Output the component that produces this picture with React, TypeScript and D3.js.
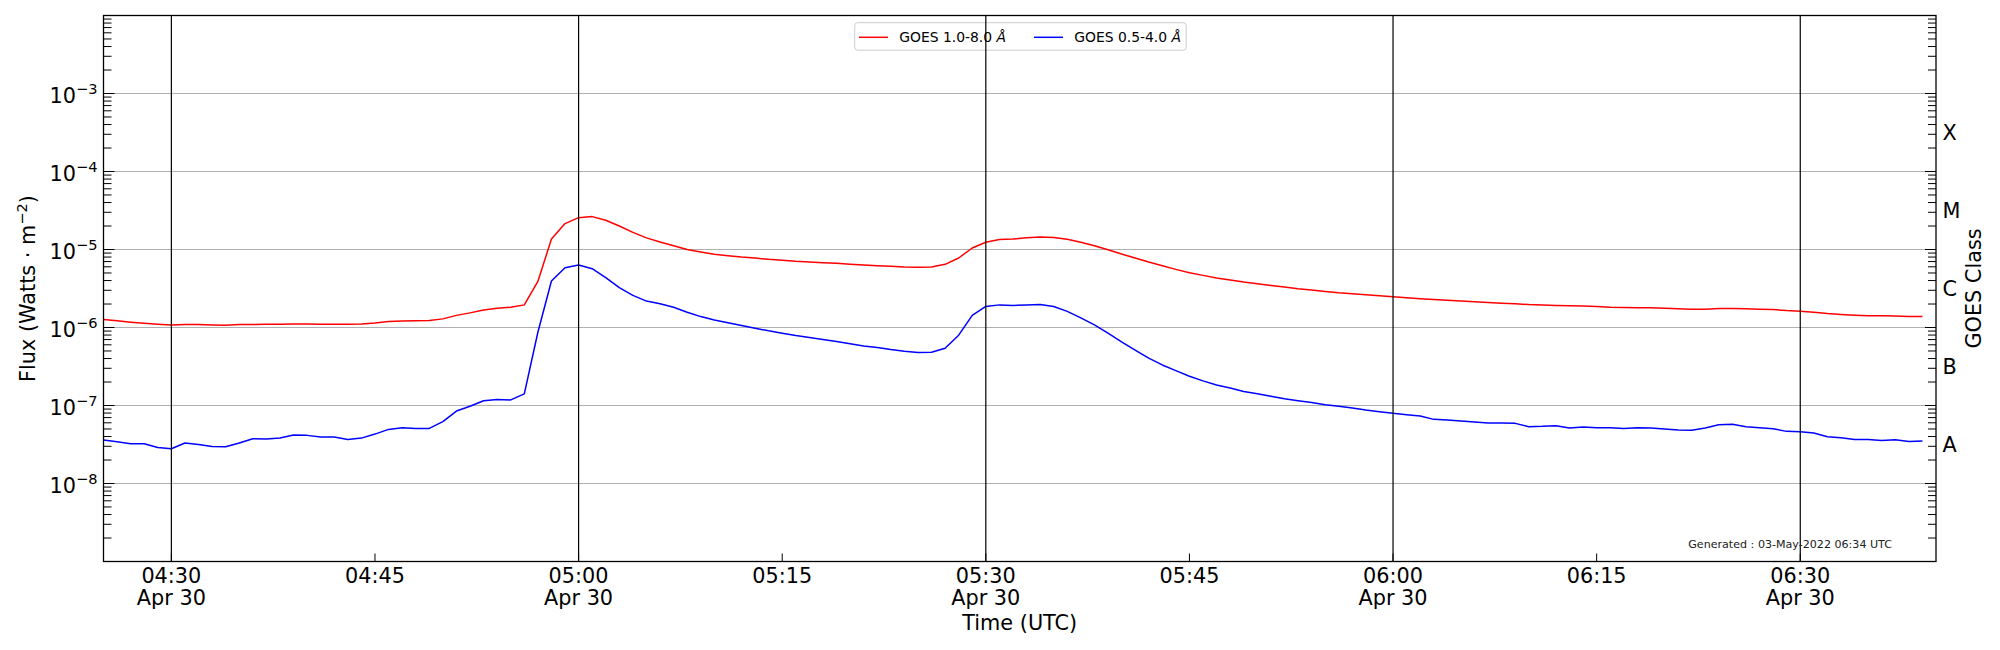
import { useRef, useEffect } from "react";
import * as d3 from "d3";

// one sample per minute starting at 04:25 UTC
const START = "2022-04-30T04:25:00Z";
const X_START = "2022-04-30T04:25:00Z";
const X_END = "2022-04-30T06:40:00Z";

// GOES 1.0-8.0 A (long channel)
const xrsb = [
  1.27e-6, 1.22e-6, 1.17e-6, 1.13e-6, 1.1e-6, 1.08e-6, 1.09e-6, 1.09e-6, 1.08e-6, 1.07e-6,
  1.09e-6, 1.09e-6, 1.1e-6, 1.1e-6, 1.11e-6, 1.11e-6, 1.1e-6, 1.1e-6, 1.1e-6, 1.11e-6,
  1.14e-6, 1.19e-6, 1.21e-6, 1.22e-6, 1.23e-6, 1.29e-6, 1.43e-6, 1.54e-6, 1.68e-6, 1.77e-6,
  1.82e-6, 1.95e-6, 3.9e-6, 1.36e-5, 2.15e-5, 2.56e-5, 2.64e-5, 2.37e-5, 2.0e-5, 1.66e-5,
  1.41e-5, 1.25e-5, 1.12e-5, 1.0e-5, 9.29e-6, 8.67e-6, 8.33e-6, 8.01e-6, 7.78e-6, 7.48e-6,
  7.26e-6, 7.05e-6, 6.91e-6, 6.77e-6, 6.64e-6, 6.48e-6, 6.32e-6, 6.2e-6, 6.08e-6, 5.96e-6,
  5.9e-6, 5.96e-6, 6.45e-6, 7.78e-6, 1.045e-5, 1.24e-5, 1.34e-5, 1.36e-5, 1.41e-5, 1.45e-5,
  1.43e-5, 1.35e-5, 1.24e-5, 1.12e-5, 9.95e-6, 8.75e-6, 7.78e-6, 6.91e-6, 6.2e-6, 5.56e-6,
  5.04e-6, 4.66e-6, 4.31e-6, 4.06e-6, 3.82e-6, 3.64e-6, 3.46e-6, 3.3e-6, 3.14e-6, 3.02e-6,
  2.9e-6, 2.79e-6, 2.71e-6, 2.63e-6, 2.55e-6, 2.48e-6, 2.4e-6, 2.34e-6, 2.29e-6, 2.24e-6,
  2.18e-6, 2.14e-6, 2.09e-6, 2.05e-6, 2.01e-6, 1.97e-6, 1.95e-6, 1.92e-6, 1.9e-6, 1.88e-6,
  1.86e-6, 1.82e-6, 1.81e-6, 1.79e-6, 1.79e-6, 1.77e-6, 1.74e-6, 1.72e-6, 1.72e-6, 1.75e-6,
  1.75e-6, 1.74e-6, 1.72e-6, 1.7e-6, 1.65e-6, 1.62e-6, 1.57e-6, 1.51e-6, 1.47e-6, 1.44e-6,
  1.41e-6, 1.41e-6, 1.4e-6, 1.38e-6, 1.38e-6,
];

// GOES 0.5-4.0 A (short channel)
const xrsa = [
  3.6e-8, 3.43e-8, 3.24e-8, 3.24e-8, 2.9e-8, 2.79e-8, 3.3e-8, 3.17e-8, 2.99e-8, 2.96e-8,
  3.3e-8, 3.75e-8, 3.71e-8, 3.82e-8, 4.18e-8, 4.14e-8, 3.94e-8, 3.94e-8, 3.67e-8, 3.82e-8,
  4.3e-8, 4.94e-8, 5.19e-8, 5.09e-8, 5.09e-8, 6.2e-8, 8.49e-8, 9.8e-8, 1.15e-7, 1.19e-7,
  1.18e-7, 1.41e-7, 8.7e-7, 3.94e-6, 5.84e-6, 6.32e-6, 5.67e-6, 4.35e-6, 3.24e-6, 2.58e-6,
  2.18e-6, 2.01e-6, 1.82e-6, 1.57e-6, 1.38e-6, 1.25e-6, 1.15e-6, 1.06e-6, 9.8e-7, 9.06e-7,
  8.46e-7, 7.89e-7, 7.44e-7, 7.02e-7, 6.61e-7, 6.2e-7, 5.81e-7, 5.53e-7, 5.21e-7, 4.96e-7,
  4.77e-7, 4.82e-7, 5.43e-7, 7.97e-7, 1.43e-6, 1.86e-6, 1.95e-6, 1.92e-6, 1.94e-6, 1.97e-6,
  1.86e-6, 1.61e-6, 1.33e-6, 1.08e-6, 8.46e-7, 6.55e-7, 5.12e-7, 4.04e-7, 3.31e-7, 2.8e-7,
  2.37e-7, 2.07e-7, 1.83e-7, 1.68e-7, 1.51e-7, 1.41e-7, 1.31e-7, 1.22e-7, 1.15e-7, 1.09e-7,
  1.025e-7, 9.75e-8, 9.29e-8, 8.75e-8, 8.33e-8, 7.93e-8, 7.62e-8, 7.33e-8, 6.64e-8, 6.51e-8,
  6.32e-8, 6.14e-8, 5.96e-8, 5.96e-8, 5.9e-8, 5.35e-8, 5.4e-8, 5.51e-8, 5.14e-8, 5.3e-8,
  5.19e-8, 5.19e-8, 5.09e-8, 5.19e-8, 5.14e-8, 4.99e-8, 4.84e-8, 4.8e-8, 5.14e-8, 5.67e-8,
  5.73e-8, 5.35e-8, 5.19e-8, 5.04e-8, 4.66e-8, 4.61e-8, 4.43e-8, 3.98e-8, 3.86e-8, 3.67e-8,
  3.67e-8, 3.56e-8, 3.64e-8, 3.46e-8, 3.5e-8,
];

const majorTimes = ["04:30", "05:00", "05:30", "06:00", "06:30"];
const minorTimes = ["04:45", "05:15", "05:45", "06:15"];
const dayLabel = "Apr 30";
const yExponents = [-3, -4, -5, -6, -7, -8];
const goesClasses = ["A", "B", "C", "M", "X"];
const goesCenters = [-7.5, -6.5, -5.5, -4.5, -3.5];
const legendLabels = ["GOES 1.0-8.0 ", "GOES 0.5-4.0 "];
const lineColors = ["red", "blue"];
const generatedText = "Generated : 03-May-2022 06:34 UTC";

const FONT = "DejaVu Sans";

export default function App() {
  const svgRef = useRef<SVGSVGElement>(null);

  useEffect(() => {
    const svg = d3.select(svgRef.current);
    svg.selectAll("*").remove();

    const width = 2000;
    const height = 650;
    const margin = { top: 15.5, right: 64, bottom: 88.5, left: 103.5 };
    const x0 = margin.left;
    const x1 = width - margin.right;
    const y0 = margin.top;
    const y1 = height - margin.bottom;

    const t0 = Date.parse(START);
    const timeAt = (i: number) => new Date(t0 + i * 60000);
    const utc = (hm: string) => new Date(`2022-04-30T${hm}:00Z`);

    const xScale = d3
      .scaleUtc()
      .domain([new Date(X_START), new Date(X_END)])
      .range([x0, x1]);
    const yScale = d3.scaleLog().domain([1e-9, 1e-2]).range([y1, y0]);

    svg.attr("font-family", FONT);

    // horizontal grid
    svg
      .append("g")
      .selectAll("line")
      .data(yExponents)
      .join("line")
      .attr("x1", x0)
      .attr("x2", x1)
      .attr("y1", (e) => yScale(10 ** e))
      .attr("y2", (e) => yScale(10 ** e))
      .attr("stroke", "#b0b0b0")
      .attr("stroke-width", 1.1);

    // series
    [xrsb, xrsa].forEach((values, k) => {
      const line = d3
        .line<number>()
        .x((_, i) => xScale(timeAt(i)))
        .y((d) => yScale(d));
      svg
        .append("path")
        .datum(values)
        .attr("d", line)
        .attr("fill", "none")
        .attr("stroke", lineColors[k])
        .attr("stroke-width", 1.5)
        .attr("stroke-linejoin", "round");
    });

    // legend
    const legendX = 854.7;
    const legendY = 22.7;
    const lg = svg.append("g");
    lg.append("rect")
      .attr("x", legendX)
      .attr("y", legendY)
      .attr("width", 331.5)
      .attr("height", 27.5)
      .attr("rx", 3)
      .attr("fill", "white")
      .attr("fill-opacity", 0.8)
      .attr("stroke", "#cccccc")
      .attr("stroke-width", 1);
    const itemOffsets = [0, 175];
    legendLabels.forEach((label, k) => {
      const ox = legendX + itemOffsets[k];
      const cy = legendY + 14.6;
      lg.append("line")
        .attr("x1", ox + 4.3)
        .attr("x2", ox + 33.3)
        .attr("y1", cy)
        .attr("y2", cy)
        .attr("stroke", lineColors[k])
        .attr("stroke-width", 1.5);
      const t = lg
        .append("text")
        .attr("x", ox + 44.5)
        .attr("y", cy + 5)
        .attr("font-size", 13.9)
        .attr("fill", "black")
        .text(label);
      t.append("tspan").attr("font-style", "italic").text("Å");
    });

    // vertical black lines at the major times
    svg
      .append("g")
      .selectAll("line")
      .data(majorTimes)
      .join("line")
      .attr("x1", (d) => xScale(utc(d)))
      .attr("x2", (d) => xScale(utc(d)))
      .attr("y1", y0)
      .attr("y2", y1)
      .attr("stroke", "black")
      .attr("stroke-width", 1.2);

    // frame
    svg
      .append("rect")
      .attr("x", x0)
      .attr("y", y0)
      .attr("width", x1 - x0)
      .attr("height", y1 - y0)
      .attr("fill", "none")
      .attr("stroke", "black")
      .attr("stroke-width", 1.3);

    // log ticks, inward on both sides
    const minorVals: number[] = [];
    for (let e = -9; e <= -3; e++) {
      for (let m = 2; m <= 9; m++) minorVals.push(m * 10 ** e);
    }
    const tickG = svg.append("g").attr("stroke", "black").attr("stroke-width", 1);
    [
      { x: x0, dir: 1 },
      { x: x1, dir: -1 },
    ].forEach(({ x, dir }) => {
      tickG
        .append("g")
        .selectAll("line")
        .data(minorVals)
        .join("line")
        .attr("x1", x)
        .attr("x2", x + dir * 8)
        .attr("y1", (d) => yScale(d))
        .attr("y2", (d) => yScale(d));
      tickG
        .append("g")
        .selectAll("line")
        .data(yExponents)
        .join("line")
        .attr("x1", x)
        .attr("x2", x + dir * 11)
        .attr("y1", (e) => yScale(10 ** e))
        .attr("y2", (e) => yScale(10 ** e));
    });

    // x ticks
    tickG
      .append("g")
      .selectAll("line")
      .data([...majorTimes, ...minorTimes])
      .join("line")
      .attr("x1", (d) => xScale(utc(d)))
      .attr("x2", (d) => xScale(utc(d)))
      .attr("y1", y1)
      .attr("y2", y1 - 8);

    // y tick labels 10^n
    const yl = svg
      .append("g")
      .selectAll("text")
      .data(yExponents)
      .join("text")
      .attr("x", x0 - 6)
      .attr("y", (e) => yScale(10 ** e) + 9)
      .attr("text-anchor", "end")
      .attr("font-size", 20.8)
      .text("10");
    yl.append("tspan")
      .attr("dy", -8.5)
      .attr("font-size", 14.6)
      .text((e) => `\u2212${-e}`);

    // x tick labels
    const xl = svg.append("g").attr("font-size", 20.8).attr("text-anchor", "middle");
    majorTimes.forEach((d) => {
      const t = xl.append("text").attr("x", xScale(utc(d))).attr("y", y1 + 21.5);
      t.append("tspan").text(d);
      t.append("tspan").attr("x", xScale(utc(d))).attr("dy", 21.5).text(dayLabel);
    });
    minorTimes.forEach((d) => {
      xl.append("text").attr("x", xScale(utc(d))).attr("y", y1 + 21.5).text(d);
    });

    // GOES class labels on the right
    svg
      .append("g")
      .selectAll("text")
      .data(goesClasses)
      .join("text")
      .attr("x", x1 + 6.5)
      .attr("y", (_, i) => yScale(10 ** goesCenters[i]) + 7.5)
      .attr("font-size", 20.8)
      .text((d) => d);

    // axis titles
    svg
      .append("text")
      .attr("x", (x0 + x1) / 2)
      .attr("y", 630)
      .attr("text-anchor", "middle")
      .attr("font-size", 20.8)
      .text("Time (UTC)");

    const yTitle = svg
      .append("text")
      .attr("transform", `translate(35,${(y0 + y1) / 2}) rotate(-90)`)
      .attr("text-anchor", "middle")
      .attr("font-size", 20.8)
      .text("Flux (Watts \u00b7 m");
    yTitle.append("tspan").attr("dy", -8.5).attr("font-size", 14.6).text("\u22122");
    yTitle.append("tspan").attr("dy", 8.5).text(")");

    svg
      .append("text")
      .attr("transform", `translate(1981,${(y0 + y1) / 2}) rotate(-90)`)
      .attr("text-anchor", "middle")
      .attr("font-size", 20.8)
      .text("GOES Class");

    svg
      .append("text")
      .attr("x", 1892)
      .attr("y", 548)
      .attr("text-anchor", "end")
      .attr("font-size", 11.1)
      .attr("fill", "#222")
      .text(generatedText);
  }, []);

  return (
    <svg
      ref={svgRef}
      width={2000}
      height={650}
      style={{ position: "absolute", left: 0, top: 0, background: "white" }}
    />
  );
}
